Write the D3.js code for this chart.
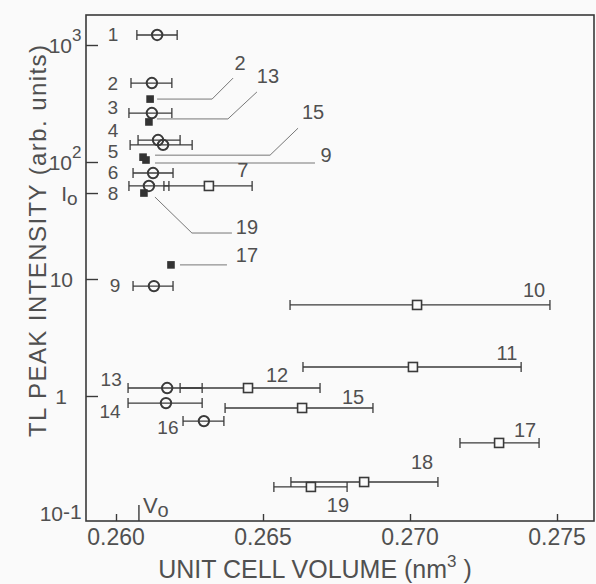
<!DOCTYPE html>
<html>
<head>
<meta charset="utf-8">
<script src="https://cdn.jsdelivr.net/npm/d3@7"></script>
<style>
  body { margin: 0; background: #fafafa; }
  text { font-family: "Liberation Sans", Arial, sans-serif; fill: #505050; }
</style>
</head>
<body>
<svg id="chart" width="596" height="584"></svg>
<script>
// open circles: sample id, unit cell volume (nm^3), error bar ends, TL peak intensity
const circleIds = ["1", "2", "3", "4", "5", "6", "8", "9", "13", "14", "16"];
const circleVol = [0.26140, 0.26122, 0.26122, 0.26143, 0.26160, 0.26126, 0.26112, 0.26129, 0.26174, 0.26170, 0.26299];
const circleLo  = [0.26071, 0.26051, 0.26044, 0.26075, 0.26048, 0.26058, 0.26044, 0.26058, 0.26041, 0.26041, 0.26228];
const circleHi  = [0.26208, 0.26190, 0.26190, 0.26218, 0.26259, 0.26194, 0.26180, 0.26194, 0.26293, 0.26293, 0.26367];
const circleTL  = [1218, 473, 262, 154, 140, 80.5, 62.4, 8.7, 1.17, 0.87, 0.61];

// open squares
const squareIds = ["7", "10", "11", "12", "15", "17", "18", "19"];
const squareVol = [0.26316, 0.27024, 0.27010, 0.26449, 0.26633, 0.27303, 0.26844, 0.26663];
const squareLo  = [0.26163, 0.26592, 0.26636, 0.26218, 0.26371, 0.27170, 0.26595, 0.26537];
const squareHi  = [0.26463, 0.27476, 0.27378, 0.26694, 0.26874, 0.27439, 0.27095, 0.26786];
const squareTL  = [62.4, 6.0, 1.77, 1.17, 0.79, 0.397, 0.184, 0.167];

// filled squares (no error bars)
const filledIds = ["2", "13", "15", "9", "19", "17"];
const filledVol = [0.26116, 0.26112, 0.26092, 0.26102, 0.26095, 0.26187];
const filledTL  = [345, 220, 110, 104, 54.3, 13.2];

// axis ticks
const xTicks = [0.260, 0.265, 0.270, 0.275];
const xTickLabels = ["0.260", "0.265", "0.270", "0.275"];
const V0 = 0.26078;
const I0 = 54.3;
const yTicks = [1000, 100, I0, 10, 1];
const yLabelVals = [1000, 100, I0, 10, 1, 0.1];
const yLabelBase = ["10", "10", "I", "10", "1", "10"];
const yLabelSup  = ["3", "2", "", "", "", "-1"];
const yLabelSub  = ["", "", "o", "", "", ""];

// label placement (pixel offsets from the mark)
const circleLabelOff = [[-44, 0], [-39, 0], [-39, -6], [-45, -10], [-50, 7], [-40, -1], [-36, 8], [-39, -1], [-56, -9], [-56, 8], [-36, 6]];
const squareLabelOff = [[34, -16], [117, -15], [94, -14], [29, -13], [51, -11], [26, -13], [58, -20], [27, 18]];
const filledLeader = [
  [[7, 0], [62, 0], [83, -21]],
  [[8, -3], [79, -3], [108, -30]],
  [[12, -2], [127, -2], [155, -29]],
  [[9, 3], [169, 3]],
  [[11, 4], [48, 40], [88, 40]],
  [[9, 0], [56, 0]]
];
const filledLabelOff = [[90, -36], [119, -46], [170, -45], [180, -5], [103, 34], [76, -10]];
const yLabelEnd = [72, 72, 67, 73, 67, 63];

const svg = d3.select("#chart");
const margin = {top: 15, right: 2, bottom: 63, left: 86};
const width = +svg.attr("width") - margin.left - margin.right;
const height = +svg.attr("height") - margin.top - margin.bottom;
const ink = "#3a3a3a";

const x = d3.scaleLinear()
  .domain([0.260 - 30 / 29400, 0.275 + 37 / 29400])
  .range([0, width]);
const y = d3.scaleLog()
  .domain([Math.pow(10, -1 - 8 / 117), Math.pow(10, 3 + 30 / 117)])
  .range([height, 0]);

const g = svg.append("g").attr("transform", `translate(${margin.left},${margin.top})`);

// frame
g.append("rect")
  .attr("width", width).attr("height", height)
  .attr("fill", "none").attr("stroke", ink).attr("stroke-width", 1.6);

// x ticks (inward)
const xAxis = g.append("g")
  .attr("transform", `translate(0,${height})`)
  .call(d3.axisBottom(x).tickValues(xTicks).tickSizeInner(-7).tickSizeOuter(0).tickFormat(""));
xAxis.select(".domain").remove();
xAxis.selectAll("line").attr("stroke", ink).attr("stroke-width", 1.4);
g.append("g").selectAll("text")
  .data(xTicks)
  .join("text")
  .attr("x", d => x(d))
  .attr("y", height + 24)
  .attr("text-anchor", "middle")
  .attr("font-size", 23)
  .text((d, i) => xTickLabels[i]);

// V0 marker
g.append("line")
  .attr("x1", x(V0)).attr("x2", x(V0))
  .attr("y1", height).attr("y2", height - 16)
  .attr("stroke", ink).attr("stroke-width", 1.4);
const v0 = g.append("text")
  .attr("x", x(V0) + 4).attr("y", height - 8)
  .attr("font-size", 22);
v0.append("tspan").text("V");
v0.append("tspan").attr("font-size", 20).attr("dy", 4).text("o");

// y ticks (inward)
const yAxis = g.append("g")
  .call(d3.axisLeft(y).tickValues(yTicks).tickSizeInner(-12).tickSizeOuter(0).tickFormat(""));
yAxis.select(".domain").remove();
yAxis.selectAll("line").attr("stroke", ink).attr("stroke-width", 1.4);

const yl = g.append("g").selectAll("g")
  .data(yLabelVals)
  .join("g")
  .attr("transform", (d, i) => `translate(${yLabelEnd[i] - margin.left},${y(d) + 8})`);
yl.append("text")
  .attr("text-anchor", "end")
  .attr("font-size", 21)
  .text((d, i) => yLabelBase[i]);
yl.append("text")
  .attr("x", 0)
  .attr("y", (d, i) => yLabelSup[i] === "-1" ? -2 : -12)
  .attr("font-size", (d, i) => yLabelSup[i] === "-1" ? 21 : 17)
  .text((d, i) => yLabelSup[i]);
yl.append("text")
  .attr("x", 0)
  .attr("y", 4)
  .attr("font-size", 19)
  .text((d, i) => yLabelSub[i]);

// axis titles
g.append("text")
  .attr("transform", `translate(${37 - margin.left},${241 - margin.top}) rotate(-90)`)
  .attr("text-anchor", "middle")
  .attr("dominant-baseline", "central")
  .attr("font-size", 24)
  .attr("textLength", 392)
  .text("TL PEAK INTENSITY (arb. units)");
const xt = g.append("text")
  .attr("x", 315 - margin.left)
  .attr("y", 578 - margin.top)
  .attr("text-anchor", "middle")
  .attr("font-size", 25);
xt.append("tspan").text("UNIT CELL VOLUME (nm");
xt.append("tspan").attr("font-size", 17).attr("dy", -11).text("3");
xt.append("tspan").attr("dy", 11).text(" )");

// error bars
function errorBars(vol, lo, hi, tl) {
  const eb = g.append("g").selectAll("g")
    .data(vol)
    .join("g")
    .attr("stroke", ink)
    .attr("stroke-width", 1.3);
  eb.append("line")
    .attr("x1", (d, i) => x(lo[i])).attr("x2", (d, i) => x(hi[i]))
    .attr("y1", (d, i) => y(tl[i])).attr("y2", (d, i) => y(tl[i]));
  eb.append("line")
    .attr("x1", (d, i) => x(lo[i])).attr("x2", (d, i) => x(lo[i]))
    .attr("y1", (d, i) => y(tl[i]) - 5).attr("y2", (d, i) => y(tl[i]) + 5);
  eb.append("line")
    .attr("x1", (d, i) => x(hi[i])).attr("x2", (d, i) => x(hi[i]))
    .attr("y1", (d, i) => y(tl[i]) - 5).attr("y2", (d, i) => y(tl[i]) + 5);
}
errorBars(squareVol, squareLo, squareHi, squareTL);
errorBars(circleVol, circleLo, circleHi, circleTL);

// leader lines for filled squares
const line = d3.line();
g.append("g").selectAll("path")
  .data(filledVol)
  .join("path")
  .attr("d", (d, i) => line(filledLeader[i].map(p => [x(d) + p[0], y(filledTL[i]) + p[1]])))
  .attr("fill", "none")
  .attr("stroke", "#777")
  .attr("stroke-width", 1);

// markers
g.append("g").selectAll("rect")
  .data(squareVol)
  .join("rect")
  .attr("x", (d, i) => x(d) - 4.5)
  .attr("y", (d, i) => y(squareTL[i]) - 4.5)
  .attr("width", 9).attr("height", 9)
  .attr("fill", "#fafafa").attr("stroke", ink).attr("stroke-width", 1.6);
g.append("g").selectAll("circle")
  .data(circleVol)
  .join("circle")
  .attr("cx", d => x(d))
  .attr("cy", (d, i) => y(circleTL[i]))
  .attr("r", 5.2)
  .attr("fill", "none").attr("stroke", ink).attr("stroke-width", 2);
g.append("g").selectAll("rect")
  .data(filledVol)
  .join("rect")
  .attr("x", d => x(d) - 3.8)
  .attr("y", (d, i) => y(filledTL[i]) - 3.8)
  .attr("width", 7.6).attr("height", 7.6)
  .attr("fill", "#333");

// labels
function labels(vol, tl, ids, off, size) {
  g.append("g").selectAll("text")
    .data(vol)
    .join("text")
    .attr("x", (d, i) => x(d) + off[i][0])
    .attr("y", (d, i) => y(tl[i]) + off[i][1])
    .attr("text-anchor", "middle")
    .attr("dominant-baseline", "central")
    .attr("font-size", size)
    .text((d, i) => ids[i]);
}
labels(circleVol, circleTL, circleIds, circleLabelOff, 19);
labels(squareVol, squareTL, squareIds, squareLabelOff, 20);
labels(filledVol, filledTL, filledIds, filledLabelOff, 20);
</script>
</body>
</html>
